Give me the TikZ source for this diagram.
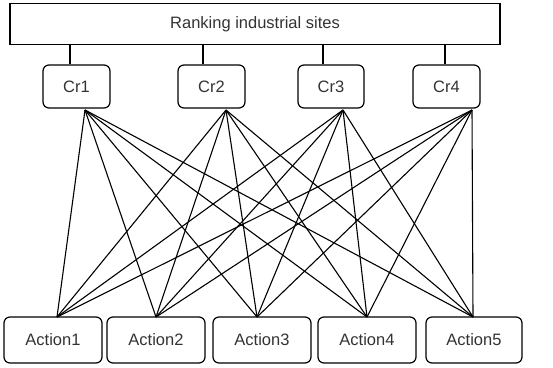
\documentclass[tikz,border=0pt]{standalone}
\usepackage{fontspec}
\setmainfont{Liberation Sans}
\begin{document}
\begin{tikzpicture}[x=1pt,y=-1pt,
  box/.style={draw,line width=1.2pt,rounded corners=6pt,minimum height=43pt,inner sep=0pt,text=black!80,font=\fontsize{16.5}{19}\selectfont},
  topbox/.style={draw,line width=1.2pt,inner sep=0pt,minimum width=490pt,minimum height=41pt,text=black!80,font=\fontsize{16.5}{19}\selectfont},
  link/.style={line width=1.1pt}]
\useasboundingbox (0,0) rectangle (553,367);
\node[topbox] (top) at (255,24) {Ranking industrial sites};
\node[box,minimum width=67pt] (c1) at (76.5,86.5) {Cr1};
\node[box,minimum width=67pt] (c2) at (211.5,86.5) {Cr2};
\node[box,minimum width=66pt] (c3) at (331,86.5) {Cr3};
\node[box,minimum width=67pt] (c4) at (446.5,86.5) {Cr4};
\node[box,minimum width=98pt,minimum height=46pt] (a1) at (53,340) {Action1};
\node[box,minimum width=98pt,minimum height=46pt] (a2) at (156,340) {Action2};
\node[box,minimum width=98pt,minimum height=46pt] (a3) at (262,340) {Action3};
\node[box,minimum width=98pt,minimum height=46pt] (a4) at (367,340) {Action4};
\node[box,minimum width=96pt,minimum height=46pt] (a5) at (474,340) {Action5};
% top connectors
\foreach \i/\x in {1/70,2/203,3/323,4/445}{
  \draw[link] (\x,44) coordinate (t\i) -- (t\i |- c\i.north);
}
% fan points
\coordinate (f1) at (85,110);
\coordinate (f2) at (226,110);
\coordinate (f3) at (343,110);
\coordinate (f4) at (472,110);
\coordinate (g1) at (57,317);
\coordinate (g2) at (156,317);
\coordinate (g3) at (257,317);
\coordinate (g4) at (367,317);
\coordinate (g5) at (473,317);
\foreach \i in {1,...,4}{
  \foreach \j in {1,...,5}{
    \draw[link] (f\i) -- (g\j);
  }
}
\end{tikzpicture}
\end{document}
